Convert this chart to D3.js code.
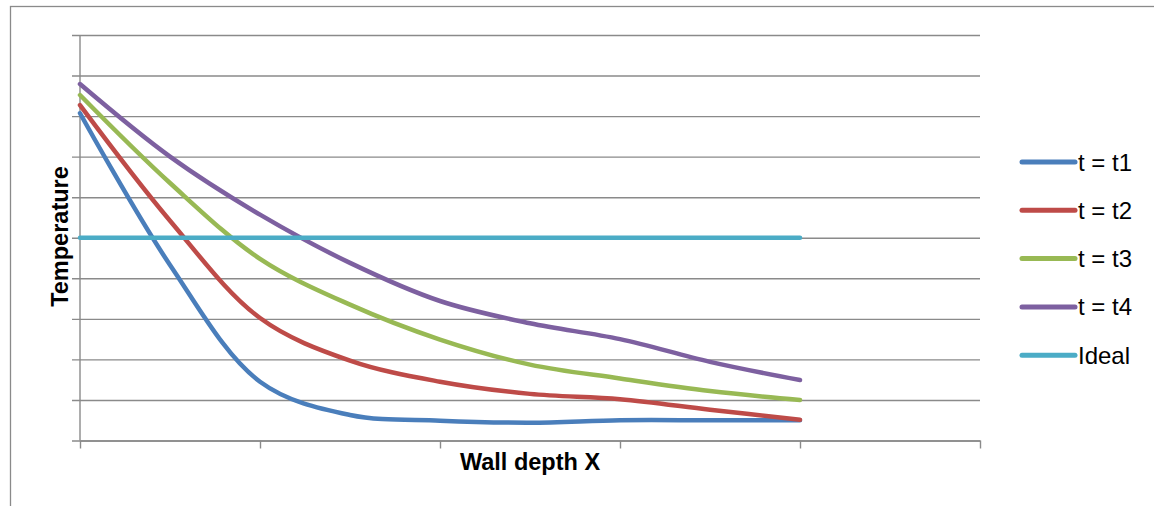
<!DOCTYPE html>
<html>
<head>
<meta charset="utf-8">
<script src="https://cdn.jsdelivr.net/npm/d3@7"></script>
<style>
  html, body { margin: 0; padding: 0; background: #fff; }
  svg { display: block; }
</style>
</head>
<body>
<svg id="chart" width="1154" height="506"></svg>
<script>
// Wall depth positions where temperature was sampled
const depth = [0, 1, 2, 3, 4, 5, 6, 7, 8];

// Temperature profiles through the wall at successive times
const t1 = [8.07, 4.33, 1.45, 0.63, 0.49, 0.44, 0.5, 0.5, 0.5];
const t2 = [8.27, 5.42, 3.02, 1.97, 1.45, 1.15, 1.02, 0.76, 0.51];
const t3 = [8.52, 6.35, 4.48, 3.35, 2.49, 1.87, 1.53, 1.22, 1.0];
const t4 = [8.79, 7.0, 5.57, 4.38, 3.44, 2.89, 2.5, 1.94, 1.49];
const ideal = [5, 5, 5, 5, 5, 5, 5, 5, 5];

const seriesNames = ["t = t1", "t = t2", "t = t3", "t = t4", "Ideal"];
const seriesColors = ["#4a7ebb", "#be4b48", "#98b954", "#7d60a0", "#4bacc6"];
const seriesValues = [t1, t2, t3, t4, ideal];

// Category ticks along the depth axis (unlabelled), and temperature gridlines
const xTicks = [0, 2, 4, 6, 8, 10];
const yTicks = [0, 1, 2, 3, 4, 5, 6, 7, 8, 9, 10];

const svg = d3.select("#chart");
const W = 1154, H = 506;
const plot = { left: 80, right: 980, top: 35, bottom: 440.5 };
const gridColor = "#8a8a8a";
const font = "'Liberation Sans', Arial, sans-serif";

const x = d3.scaleLinear().domain([0, 10]).range([plot.left, plot.right]);
const y = d3.scaleLinear().domain([0, 10]).range([plot.bottom, plot.top]);

// Outer chart frame (continues past the right and bottom edges)
svg.append("rect")
  .attr("x", 10.5).attr("y", 6.5)
  .attr("width", W + 20).attr("height", H + 20)
  .attr("fill", "#fff")
  .attr("stroke", gridColor)
  .attr("stroke-width", 1.3);

// Horizontal gridlines with the left axis ticks
const yAxis = d3.axisLeft(y)
  .tickValues(yTicks)
  .tickSize(-(plot.right - plot.left))
  .tickSizeOuter(0)
  .tickFormat("");
const gy = svg.append("g")
  .attr("transform", `translate(${plot.left},0)`)
  .call(yAxis);
gy.selectAll(".tick line")
  .attr("x1", -8)
  .attr("stroke", gridColor)
  .attr("stroke-width", 1.4);
gy.select(".domain")
  .attr("d", `M0,${plot.top}V${plot.bottom}`)
  .attr("stroke", gridColor)
  .attr("stroke-width", 1.4);

// Bottom axis with tick marks only
const xAxis = d3.axisBottom(x)
  .tickValues(xTicks)
  .tickSize(8)
  .tickSizeOuter(0)
  .tickFormat("");
const gx = svg.append("g")
  .attr("transform", `translate(0,${plot.bottom})`)
  .call(xAxis);
gx.selectAll(".tick line").attr("stroke", gridColor).attr("stroke-width", 1.4);
gx.select(".domain").attr("stroke", gridColor).attr("stroke-width", 1.4);

// Smoothed series lines
const line = d3.line()
  .x((d, i) => x(depth[i]))
  .y(d => y(d))
  .curve(d3.curveCatmullRom.alpha(0.5));

seriesValues.forEach((vals, k) => {
  svg.append("path")
    .datum(vals)
    .attr("d", line)
    .attr("fill", "none")
    .attr("stroke", seriesColors[k])
    .attr("stroke-width", 4.5)
    .attr("stroke-linecap", "round")
    .attr("stroke-linejoin", "round");
});

// Axis titles
svg.append("text")
  .attr("transform", "translate(68,236.5) rotate(-90)")
  .attr("text-anchor", "middle")
  .attr("font-family", font)
  .attr("font-weight", "bold")
  .attr("font-size", 23.5)
  .attr("fill", "#000")
  .text("Temperature");

svg.append("text")
  .attr("x", 530).attr("y", 470)
  .attr("text-anchor", "middle")
  .attr("font-family", font)
  .attr("font-weight", "bold")
  .attr("font-size", 23.5)
  .attr("fill", "#000")
  .text("Wall depth X");

// Legend
const legend = svg.append("g").attr("transform", "translate(1020,162)");
seriesNames.forEach((name, k) => {
  const row = legend.append("g").attr("transform", `translate(0,${k * 48.3})`);
  row.append("line")
    .attr("x1", 2).attr("x2", 55)
    .attr("y1", 0).attr("y2", 0)
    .attr("stroke", seriesColors[k])
    .attr("stroke-width", 5)
    .attr("stroke-linecap", "round");
  row.append("text")
    .attr("x", 58).attr("y", 8.5)
    .attr("font-family", font)
    .attr("font-size", 24)
    .attr("fill", "#000")
    .text(name);
});
</script>
</body>
</html>
